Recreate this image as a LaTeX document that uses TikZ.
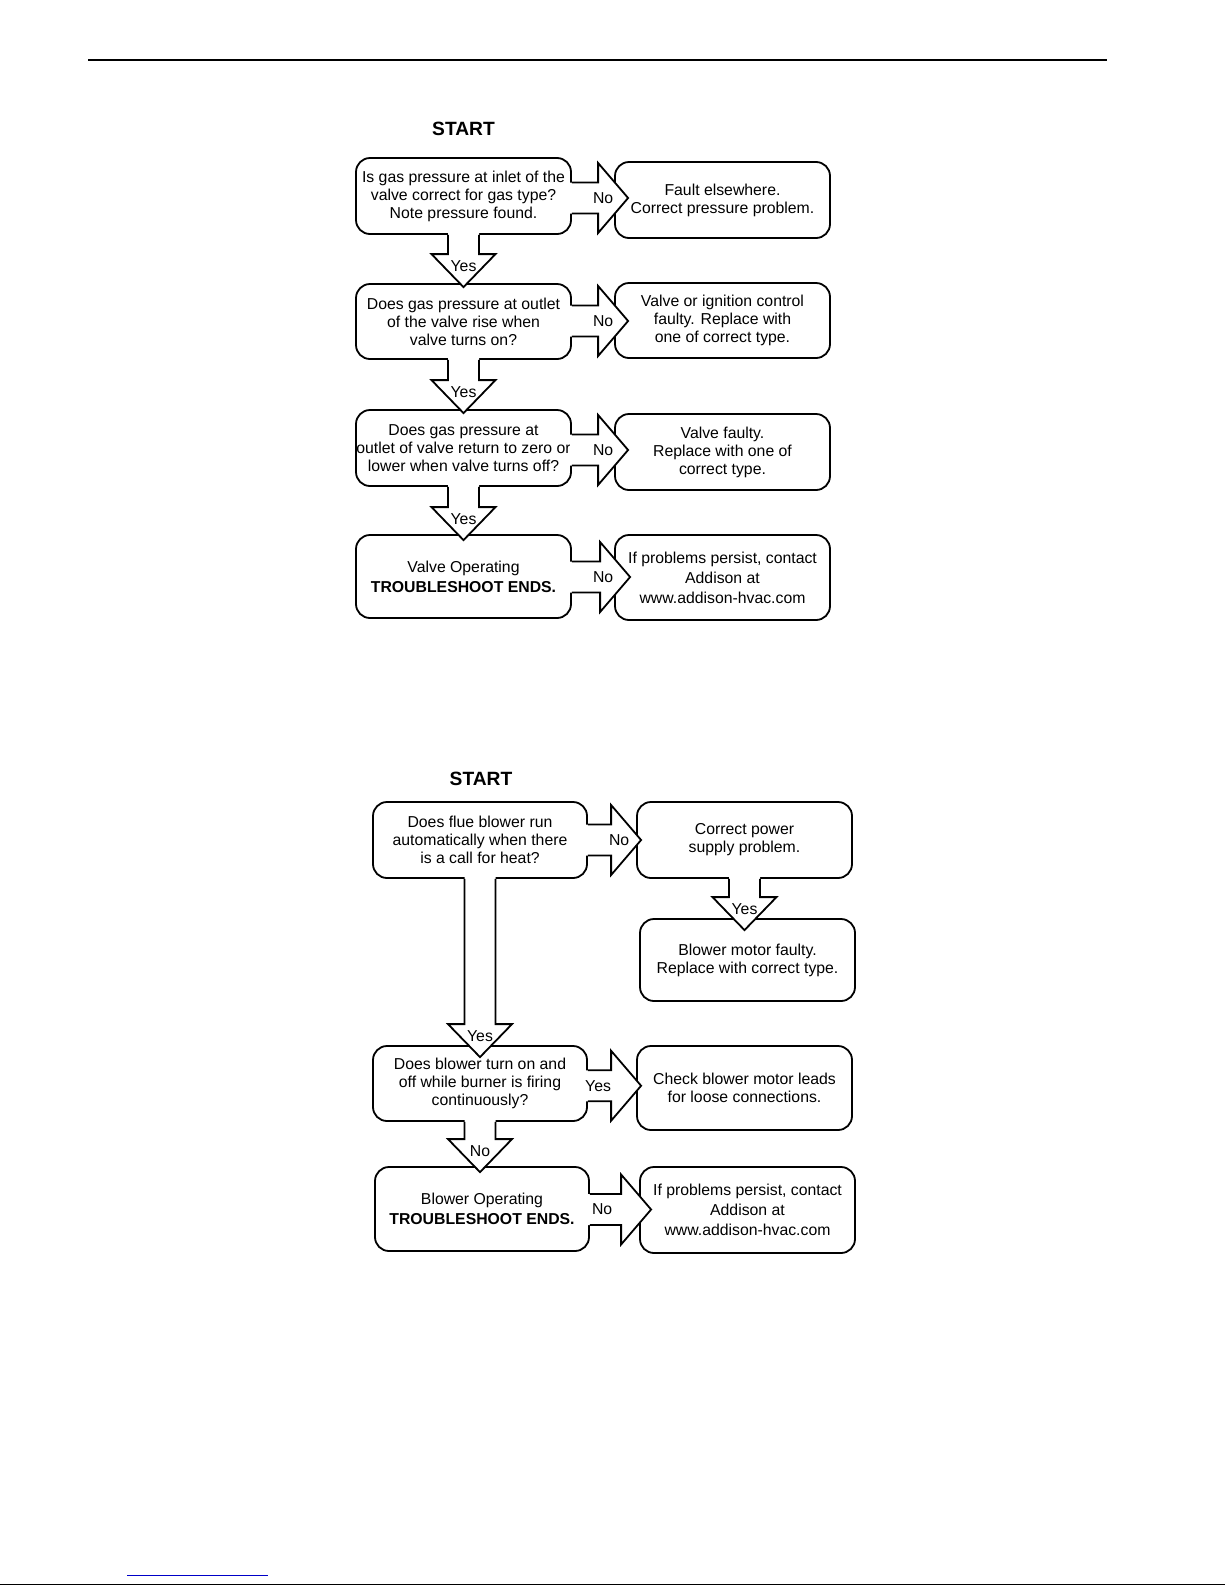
\documentclass[tikz,border=0pt]{standalone}
\usepackage{fontspec}
\setmainfont{Liberation Sans}
\usetikzlibrary{calc}
\definecolor{linkblue}{RGB}{0,0,200}
\newcommand{\fs}{\fontsize{15.8}{18}\selectfont}
\newcommand{\fsw}{\fontsize{15.8}{20}\selectfont}
\tikzset{
  box/.style={draw, line width=1.8pt, rounded corners=14pt, align=center, inner sep=0pt, font=\fs},
  wbox/.style={box, font=\fsw},
  ln/.style={line width=1.8pt, line join=miter},
  lbl/.style={font=\fs, inner sep=0pt},
  title/.style={font=\fontsize{19.2}{21}\selectfont\bfseries, inner sep=0pt}
}
% horizontal block arrow: from, to, label, tip overlap, label offset from tip
\newcommand{\harr}[5]{%
  \coordinate (m) at ($(#1.center)!0.5!(#2.center)$);
  \coordinate (s) at (#1.east |- m);
  \coordinate (t) at ($(#2.west |- m)+(#4,0)$);
  \fill[white] ($(s)+(-2,-15.5)$) -- ($(t)+(-30,-15.5)$) -- ($(t)+(-30,-35)$) -- (t) -- ($(t)+(-30,35)$) -- ($(t)+(-30,15.5)$) -- ($(s)+(-2,15.5)$) -- cycle;
  \draw[ln] ($(s)+(0,-15.5)$) -- ($(t)+(-30,-15.5)$) -- ($(t)+(-30,-35)$) -- (t) -- ($(t)+(-30,35)$) -- ($(t)+(-30,15.5)$) -- ($(s)+(0,15.5)$);
  \node[lbl] at ($(t)+(#5,0)$) {#3};
}
% vertical block arrow: from, to, label, tip overlap
\newcommand{\varr}[4]{%
  \coordinate (s) at (#1.south);
  \coordinate (t) at ($(#1.south |- #2.north)+(0,#4)$);
  \fill[white] ($(s)+(-15.5,-2)$) -- ($(t)+(-15.5,-33)$) -- ($(t)+(-32,-33)$) -- (t) -- ($(t)+(32,-33)$) -- ($(t)+(15.5,-33)$) -- ($(s)+(15.5,-2)$) -- cycle;
  \draw[ln] ($(s)+(-15.5,0)$) -- ($(t)+(-15.5,-33)$) -- ($(t)+(-32,-33)$) -- (t) -- ($(t)+(32,-33)$) -- ($(t)+(15.5,-33)$) -- ($(s)+(15.5,0)$);
  \node[lbl] at ($(t)+(0,-21)$) {#3};
}
\begin{document}
\begin{tikzpicture}[x=1pt,y=-1pt]
\useasboundingbox (0,0) rectangle (1225,1585);
\fill[white] (0,0) rectangle (1225,1585);
% page rules
\draw[line width=2.5pt] (88,60) -- (1107,60);
\draw[linkblue, line width=1pt] (127,1575) -- (268,1575);
\draw[line width=1pt] (0,1584.5) -- (1225,1584.5);

% ---------- top chart ----------
\node[title] (start1) at (463.5,129) {START};
\node[box, minimum width=215pt, minimum height=76pt] (q1) at (463.5,196) {Is gas pressure at inlet of the\\valve correct for gas type?\\Note pressure found.};
\node[box, minimum width=215pt, minimum height=76pt] (r1) at (722.5,200) {Fault elsewhere.\\Correct pressure problem.};
\node[box, minimum width=215pt, minimum height=75pt] (q2) at (463.5,321.5) {Does gas pressure at outlet\\of the valve rise when\\valve turns on?};
\node[box, minimum width=215pt, minimum height=75pt] (r2) at (722.5,320.5) {Valve or ignition control\\faulty. Replace with\\one of correct type.};
\node[box, minimum width=215pt, minimum height=76pt] (q3) at (463.5,448) {Does gas pressure at\\outlet of valve return to zero or\\lower when valve turns off?};
\node[box, minimum width=215pt, minimum height=76pt] (r3) at (722.5,452) {Valve faulty.\\Replace with one of\\correct type.};
\node[wbox, minimum width=215pt, minimum height=83pt] (q4) at (463.5,576.5) {Valve Operating\\\textbf{TROUBLESHOOT ENDS.}};
\node[wbox, minimum width=215pt, minimum height=85pt] (r4) at (722.5,577.5) {If problems persist, contact\\Addison at\\www.addison-hvac.com};

\harr{q1}{r1}{No}{14}{-25}
\harr{q2}{r2}{No}{14}{-25}
\harr{q3}{r3}{No}{14}{-25}
\harr{q4}{r4}{No}{16}{-27}
\varr{q1}{q2}{Yes}{4}
\varr{q2}{q3}{Yes}{4}
\varr{q3}{q4}{Yes}{6}

% ---------- bottom chart ----------
\node[title] (start2) at (481,779) {START};
\node[box, minimum width=214pt, minimum height=76pt] (b1) at (480,840) {Does flue blower run\\automatically when there\\is a call for heat?};
\node[box, minimum width=215pt, minimum height=76pt] (c1) at (744.5,840) {Correct power\\supply problem.};
\node[box, minimum width=215pt, minimum height=82pt] (c2) at (747.5,960) {Blower motor faulty.\\Replace with correct type.};
\node[box, minimum width=214pt, minimum height=75pt] (b3) at (480,1083.5) {Does blower turn on and\\off while burner is firing\\continuously?};
\node[box, minimum width=215pt, minimum height=84pt] (c3) at (744.5,1088) {Check blower motor leads\\for loose connections.};
\node[wbox, minimum width=214pt, minimum height=84pt] (b4) at (482,1209) {Blower Operating\\\textbf{TROUBLESHOOT ENDS.}};
\node[wbox, minimum width=215pt, minimum height=86pt] (c4) at (747.5,1210) {If problems persist, contact\\Addison at\\www.addison-hvac.com};

\harr{b1}{c1}{No}{5}{-22}
\harr{b3}{c3}{Yes}{5}{-43}
\harr{b4}{c4}{No}{12}{-49}
\varr{c1}{c2}{Yes}{12}
\varr{b1}{b3}{Yes}{12}
\varr{b3}{b4}{No}{6}
\end{tikzpicture}
\end{document}
